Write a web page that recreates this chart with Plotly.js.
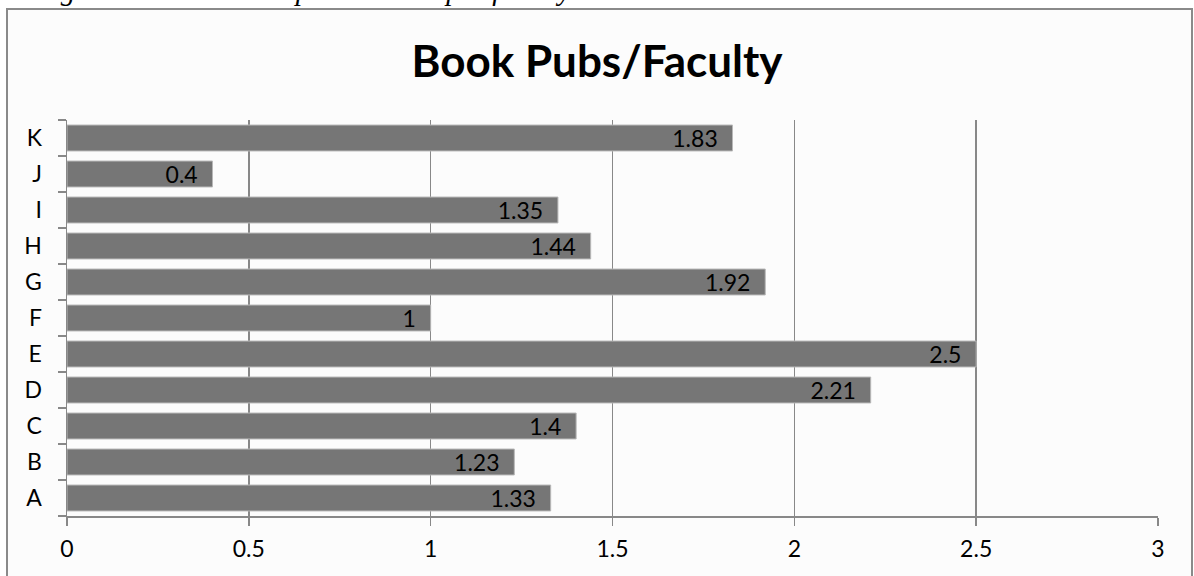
<!DOCTYPE html>
<html>
<head>
<meta charset="utf-8">
<script src="https://cdn.plot.ly/plotly-3.0.1.min.js"></script>
<style>html,body{margin:0;padding:0;background:#fff;}#chart{width:1194px;height:576px;}</style>
</head>
<body>
<div id="chart"></div>
<script>
const categories = ["A","B","C","D","E","F","G","H","I","J","K"];
const values = [1.33, 1.23, 1.4, 2.21, 2.5, 1, 1.92, 1.44, 1.35, 0.4, 1.83];
const xTicks = [0, 0.5, 1, 1.5, 2, 2.5, 3];
const xTickLabels = ["0","0.5","1","1.5","2","2.5","3"];
const chartTitle = "Book Pubs/Faculty";
const captionText = "Figure 3." + "\u00a0".repeat(12) + "Book publications per faculty member.";

const pad = "\u00a0\u00a0";
const trace = {
  type: "bar",
  orientation: "h",
  y: categories,
  x: values,
  text: values.map(v => String(v) + pad),
  textposition: "inside",
  insidetextanchor: "end",
  textangle: 0,
  constraintext: "none",
  textfont: {family: "Lato, 'Open Sans', sans-serif", size: 23, color: "#000"},
  marker: {color: "#767676", line: {color: "#b8b8b8", width: 1}},
  width: 0.72,
  hoverinfo: "none"
};

const L = 67, R = 36, T = 120, B = 60, W = 1194, H = 576;
const pw = W - L - R, ph = H - T - B;
const px = x => (x - L) / pw;
const py = y => (H - B - y) / ph;

const layout = {
  width: W, height: H,
  margin: {l: L, r: R, t: T, b: B, pad: 0},
  paper_bgcolor: "#ffffff",
  plot_bgcolor: "rgba(0,0,0,0)",
  showlegend: false,
  font: {family: "Lato, 'Open Sans', sans-serif", color: "#000"},
  title: {
    text: "<b>" + chartTitle + "</b>",
    font: {family: "Lato, 'Open Sans', sans-serif", size: 44, color: "#000"},
    x: 0.5, xref: "container", xanchor: "center",
    y: 1 - 62 / 576, yref: "container", yanchor: "middle"
  },
  xaxis: {
    range: [0, 3],
    tickvals: xTicks,
    ticktext: xTickLabels,
    showgrid: true, gridcolor: "#888888", gridwidth: 1.5,
    showline: true, linecolor: "#888888", linewidth: 1.5,
    ticks: "outside", ticklen: 8, tickcolor: "#888888", tickwidth: 1.5,
    ticklabelstandoff: 4,
    tickfont: {size: 23, color: "#000"},
    zeroline: false, fixedrange: true
  },
  yaxis: {
    type: "category",
    categoryorder: "array", categoryarray: categories,
    range: [-0.5, 10.5],
    showgrid: false,
    showline: true, linecolor: "#888888", linewidth: 1.5,
    ticks: "outside", tickson: "boundaries", ticklen: 8, tickcolor: "#888888", tickwidth: 1.5,
    ticklabelstandoff: 19,
    tickfont: {size: 23, color: "#000"},
    zeroline: false, fixedrange: true
  },
  shapes: [{
    type: "rect", xref: "paper", yref: "paper", layer: "below",
    x0: px(7), x1: px(1192), y0: py(590), y1: py(9),
    line: {color: "#8a8a8a", width: 2},
    fillcolor: "#fcfcfc"
  }],
  annotations: [{
    text: "<i>" + captionText + "</i>",
    xref: "paper", yref: "paper",
    x: px(678), y: py(8),
    xanchor: "right", yanchor: "bottom",
    showarrow: false,
    font: {family: "'Liberation Serif', 'DejaVu Serif', serif", size: 29, color: "#000"}
  }]
};

Plotly.newPlot("chart", [trace], layout, {staticPlot: true, displayModeBar: false});
</script>
</body>
</html>
